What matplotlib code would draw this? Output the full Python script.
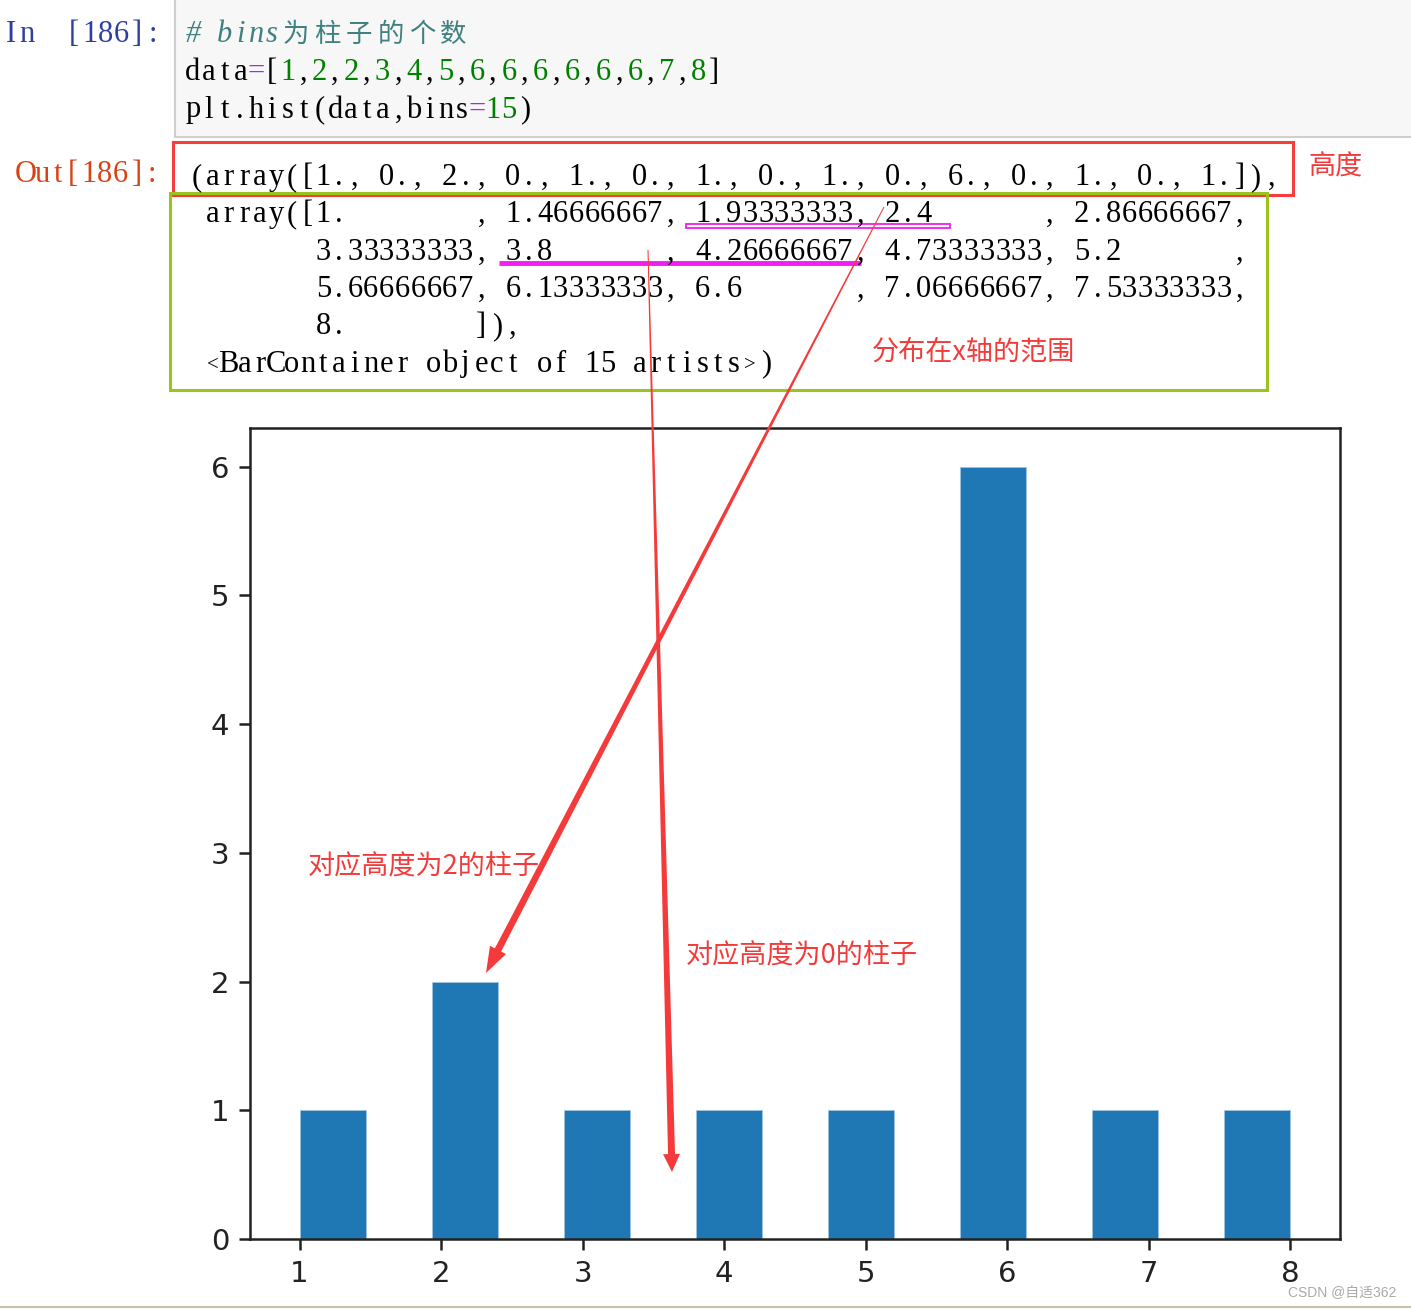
import unicodedata
import numpy as np
import matplotlib.pyplot as plt
from matplotlib.patches import Rectangle, Polygon

W, H = 1411, 1309

# values from the notebook cell
data = [1, 2, 2, 3, 4, 5, 6, 6, 6, 6, 6, 6, 7, 8]
n_bins = 15
x_ticks = [1, 2, 3, 4, 5, 6, 7, 8]
y_ticks = [0, 1, 2, 3, 4, 5, 6]

# notebook text
prompt_in = 'In  [186]:'
prompt_out = 'Out[186]:'
code_lines = [
    '# bins为柱子的个数',
    'data=[1,2,2,3,4,5,6,6,6,6,6,6,7,8]',
    'plt.hist(data,bins=15)',
]
out_lines = [
    '(array([1., 0., 2., 0., 1., 0., 1., 0., 1., 0., 6., 0., 1., 0., 1.]),',
    ' array([1.        , 1.46666667, 1.93333333, 2.4       , 2.86666667,',
    '        3.33333333, 3.8       , 4.26666667, 4.73333333, 5.2       ,',
    '        5.66666667, 6.13333333, 6.6       , 7.06666667, 7.53333333,',
    '        8.        ]),',
    ' <BarContainer object of 15 artists>)',
]
note_height = '高度'
note_range = '分布在x轴的范围'
note_bar2 = '对应高度为2的柱子'
note_bar0 = '对应高度为0的柱子'
watermark = 'CSDN @自适362'

RED = '#f23c3c'
CW = 15.8  # width of one monospace cell in pixels


def put_line(ax, text, x0, y, colors=None, size=22, italic=False):
    # lay out a line char by char on a fixed grid, CJK takes two cells
    col = 0
    for ch in text:
        span = 2 if unicodedata.east_asian_width(ch) in 'WF' else 1
        if ch != ' ':
            c = colors(ch) if callable(colors) else (colors or 'black')
            if span == 2:
                ax.text(x0 + (col + 1) * CW, y, ch, ha='center', va='baseline',
                        fontsize=size - 3, color=c, family='Noto Sans CJK SC')
            else:
                # the angle brackets are wide in this serif, draw them smaller
                fs = size - 7 if ch in '<>' else size
                ax.text(x0 + (col + 0.5) * CW, y - (2 if ch in '<>' else 0), ch,
                        ha='center', va='baseline', fontsize=fs, color=c,
                        family='Liberation Serif',
                        style='italic' if italic else 'normal')
        col += span


def code_color(ch):
    if ch.isdigit():
        return '#008000'
    if ch == '=':
        return '#aa22ff'
    return 'black'


def taper_arrow(ax, start, tip, w0, w1, head_len, head_w, color):
    p0 = np.array(start, float)
    p1 = np.array(tip, float)
    u = (p1 - p0) / np.hypot(*(p1 - p0))
    n = np.array([-u[1], u[0]])
    base = p1 - u * head_len
    pts = [p0 + n * w0 / 2, base + n * w1 / 2, base + n * head_w / 2, p1,
           base - n * head_w / 2, base - n * w1 / 2, p0 - n * w0 / 2]
    ax.add_patch(Polygon(pts, closed=True, fc=color, ec='none', zorder=5))


fig = plt.figure(figsize=(W / 100, H / 100), dpi=100)

# the histogram
ax = fig.add_axes([250 / W, 1 - 1239 / H, 1090 / W, 811 / H])
ax.hist(data, bins=n_bins, color='#1f77b4', edgecolor='#9fc4e2', linewidth=0.6)
ax.set_xticks(x_ticks)
ax.set_yticks(y_ticks)
ax.tick_params(labelsize=21, length=8, width=1.8, pad=7, colors='#222222')
for s in ax.spines.values():
    s.set_linewidth(1.8)
    s.set_color('#222222')

# overlay in pixel coordinates for the notebook parts
ov = fig.add_axes([0, 0, 1, 1])
ov.set_xlim(0, W)
ov.set_ylim(H, 0)
ov.axis('off')

# input cell
ov.add_patch(Rectangle((175, -5), W, 142, fc='#f7f7f7', ec='#cfcfcf', lw=1.5))
put_line(ov, prompt_in, 3, 42, colors='#303f9f')
put_line(ov, code_lines[0], 185, 42, colors='#408080', italic=True)
for i, line in enumerate(code_lines[1:]):
    put_line(ov, line, 185, 80 + 37.5 * i, colors=code_color)

# output
put_line(ov, prompt_out, 18, 182, colors='#d84315')
for i, line in enumerate(out_lines):
    put_line(ov, line, 189, 185 + 37.3 * i)

# boxes and underlines
ov.add_patch(Rectangle((173, 142), 1120, 53, fc='none', ec='#f53d3d', lw=2.2))
ov.add_patch(Rectangle((170, 193), 1097, 197, fc='none', ec='#9bc31c', lw=2.2))
ov.add_patch(Rectangle((686, 224), 264, 4, fc='white', ec='#f01ef0', lw=1.3))
ov.plot([499, 861], [263, 263], color='#f01ef0', lw=3.5, solid_capstyle='butt')

# notes
ov.text(1308, 167, note_height, fontsize=19.5, color=RED, va='center',
        family='Noto Sans CJK SC')
ov.text(872, 352, note_range, fontsize=19.5, color=RED, va='center',
        family='Noto Sans CJK SC')
ov.text(308, 867, note_bar2, fontsize=19.5, color=RED, va='center',
        family='Noto Sans CJK SC')
ov.text(686, 956, note_bar0, fontsize=19.5, color=RED, va='center',
        family='Noto Sans CJK SC')

# arrows
taper_arrow(ov, (884, 207), (486, 973), 1.0, 7, 26, 18, '#f43a3a')
taper_arrow(ov, (648, 250), (672, 1172), 1.0, 7, 18, 17, '#f43a3a')

# footer
ov.text(1396, 1293, watermark, fontsize=10, color='#aaaaaa', ha='right', va='center',
        family=['Liberation Sans', 'Noto Sans CJK SC'])
ov.plot([0, W], [1307, 1307], color='#c8bfae', lw=1.5)

plt.savefig('out.png', dpi=100)
